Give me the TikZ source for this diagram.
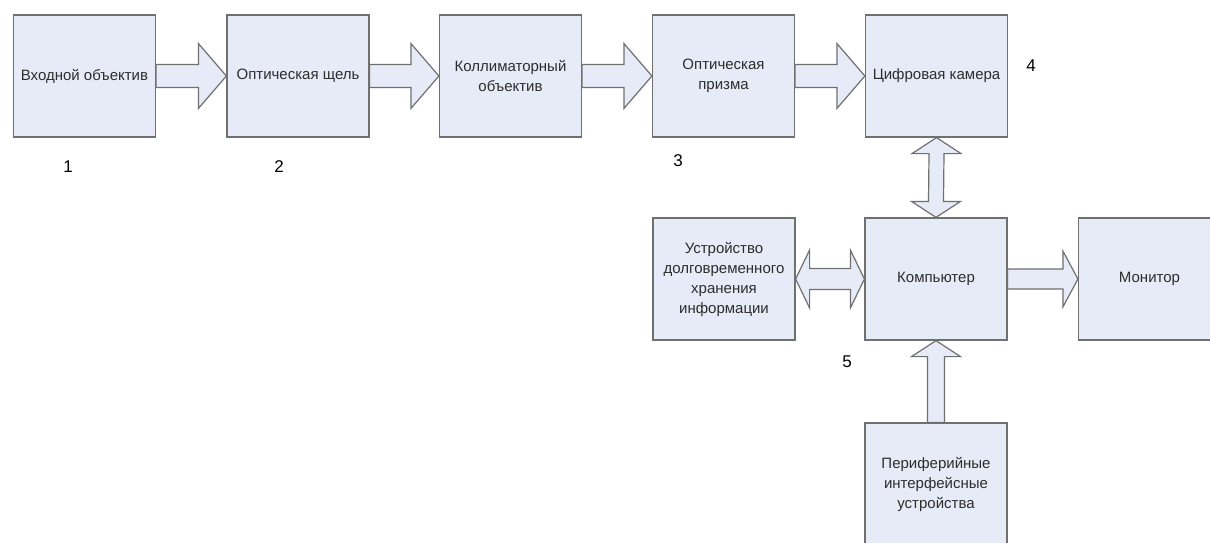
\documentclass[tikz,border=0pt]{standalone}
\usepackage{fontspec}
\setmainfont{Liberation Sans}
\usetikzlibrary{calc}

\definecolor{boxfill}{RGB}{231,235,247}
\definecolor{edge}{RGB}{112,112,112}
\definecolor{ink}{RGB}{45,45,45}

\tikzset{
  block/.style={draw=edge, fill=boxfill, line width=1.2pt, minimum width=142pt,
    minimum height=122pt, inner sep=0pt, align=center, text=ink,
    font=\fontsize{15}{20}\selectfont},
  fat/.style={draw=edge, fill=boxfill, line width=1.2pt, line join=miter},
  num/.style={font=\fontsize{17}{18}\selectfont, text=black, inner sep=0pt}
}

% block arrow pointing right: #1 from, #2 to, #3 head length, #4 shaft half width, #5 head half width
\newcommand\fatright[5]{%
  \draw[fat] ($(#1.east)+(0,-#4)$) -- ($(#2.west)+(-#3,-#4)$) -- ($(#2.west)+(-#3,-#5)$)
    -- (#2.west) -- ($(#2.west)+(-#3,#5)$) -- ($(#2.west)+(-#3,#4)$)
    -- ($(#1.east)+(0,#4)$) -- cycle;}
% block arrow with heads at both ends, horizontal: #1 left node, #2 right node
\newcommand\fatboth[5]{%
  \draw[fat] (#1.east) -- ($(#1.east)+(#3,-#5)$) -- ($(#1.east)+(#3,-#4)$)
    -- ($(#2.west)+(-#3,-#4)$) -- ($(#2.west)+(-#3,-#5)$) -- (#2.west)
    -- ($(#2.west)+(-#3,#5)$) -- ($(#2.west)+(-#3,#4)$)
    -- ($(#1.east)+(#3,#4)$) -- ($(#1.east)+(#3,#5)$) -- cycle;}
% block arrow pointing up: #1 lower node, #2 upper node
\newcommand\fatup[5]{%
  \draw[fat] ($(#1.north)+(-#4,0)$) -- ($(#2.south)+(-#4,#3)$) -- ($(#2.south)+(-#5,#3)$)
    -- (#2.south) -- ($(#2.south)+(#5,#3)$) -- ($(#2.south)+(#4,#3)$)
    -- ($(#1.north)+(#4,0)$) -- cycle;}
% block arrow with heads at both ends, vertical: #1 upper node, #2 lower node
\newcommand\fatupdown[5]{%
  \draw[fat] (#1.south) -- ($(#1.south)+(#5,#3)$) -- ($(#1.south)+(#4,#3)$)
    -- ($(#2.north)+(#4,-#3)$) -- ($(#2.north)+(#5,-#3)$) -- (#2.north)
    -- ($(#2.north)+(-#5,-#3)$) -- ($(#2.north)+(-#4,-#3)$)
    -- ($(#1.south)+(-#4,#3)$) -- ($(#1.south)+(-#5,#3)$) -- cycle;}

\begin{document}
\begin{tikzpicture}[x=1pt,y=-1pt]
  \useasboundingbox (0,0) rectangle (1210,543);
  \clip (0,0) rectangle (1210,543);

  % optical path
  \node[block] (lens)  at (84.5,76)  {Входной объектив};
  \node[block] (slit)  at (298,76)   {Оптическая щель};
  \node[block] (coll)  at (510.5,76) {Коллиматорный\\объектив};
  \node[block] (prism) at (723.5,76) {Оптическая\\призма};
  \node[block] (cam)   at (936.5,76) {Цифровая камера};

  % computer part
  \node[block] (store) at (724,279)    {Устройство\\долговременного\\хранения\\информации};
  \node[block] (comp)  at (936,279)    {Компьютер};
  \node[block] (mon)   at (1149.5,279) {Монитор};
  \node[block] (periph) at (936,484)   {Периферийные\\интерфейсные\\устройства};

  % connectors
  \fatright{lens}{slit}{28}{11.5}{32.5}
  \fatright{slit}{coll}{28}{11.5}{32.5}
  \fatright{coll}{prism}{28}{11.5}{32.5}
  \fatright{prism}{cam}{28}{11.5}{32.5}
  \fatupdown{cam}{comp}{16}{7.5}{24.5}
  \fatboth{store}{comp}{14}{10.5}{29}
  \fatright{comp}{mon}{15}{10}{28}
  \fatup{periph}{comp}{16}{8.5}{24.5}

  % item numbers
  \node[num] (n1) at (68,167)  {1};
  \node[num] (n2) at (279,167) {2};
  \node[num] (n3) at (678,161) {3};
  \node[num] (n4) at (1031,66) {4};
  \node[num] (n5) at (847,362) {5};
\end{tikzpicture}
\end{document}
